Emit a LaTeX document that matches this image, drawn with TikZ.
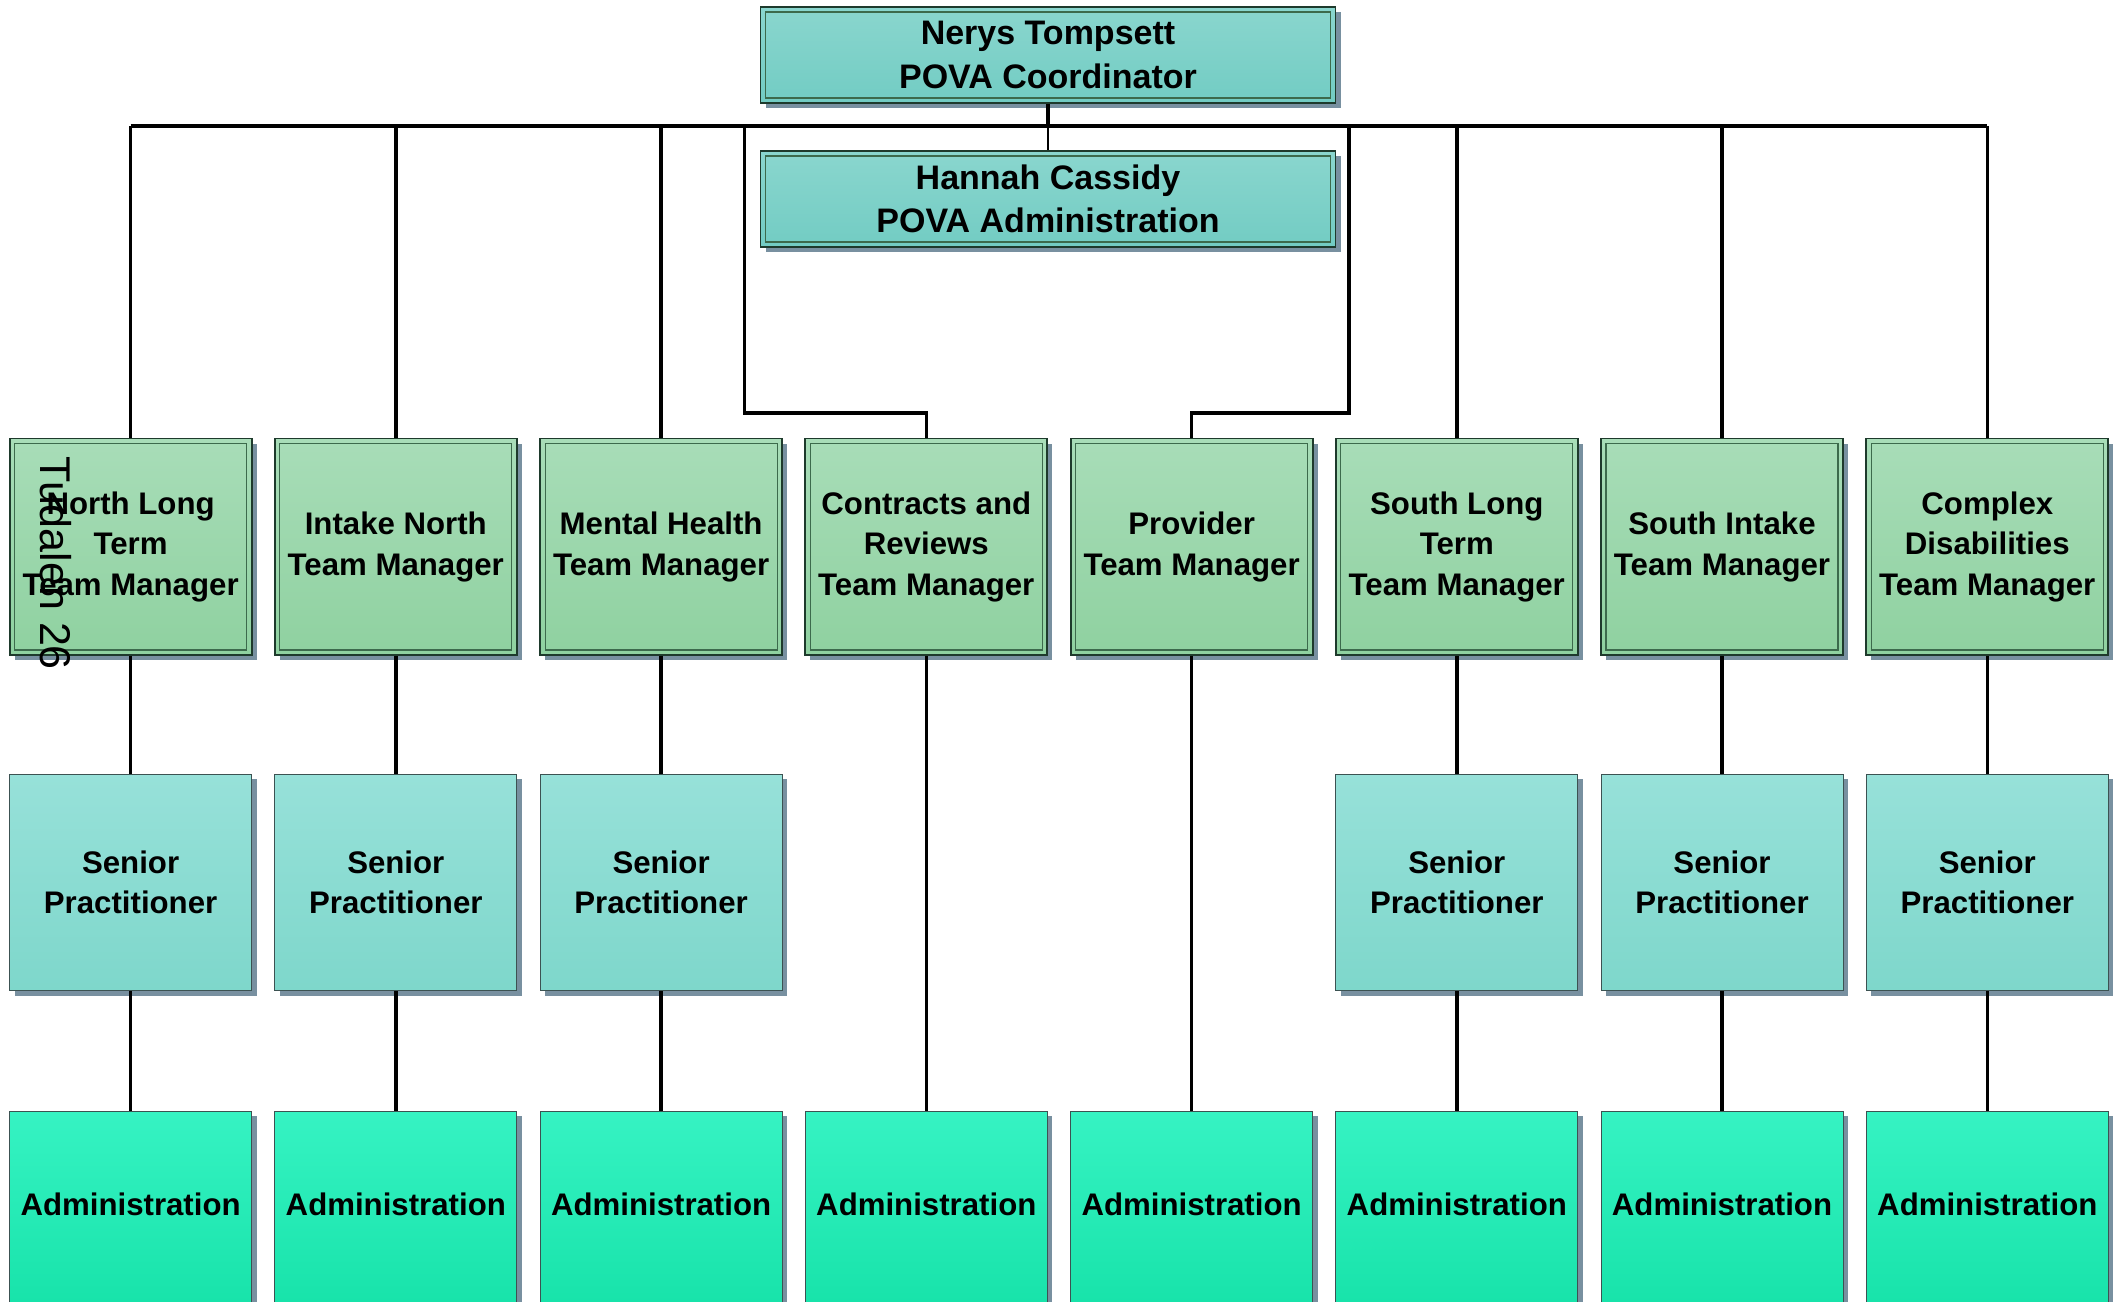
\documentclass[tikz,border=0pt]{standalone}
\usepackage{fontspec}
\setmainfont{Liberation Sans}
\usetikzlibrary{shadows}
\definecolor{topA}{HTML}{8AD6CE}
\definecolor{topB}{HTML}{72CCC3}
\definecolor{grA}{HTML}{A8DDB8}
\definecolor{grB}{HTML}{8FD1A0}
\definecolor{snA}{HTML}{97E1D9}
\definecolor{snB}{HTML}{7ED7CB}
\definecolor{adA}{HTML}{36F3C3}
\definecolor{adB}{HTML}{14E1A7}
\definecolor{shad}{HTML}{7890A0}
\definecolor{edgec}{HTML}{1E3A2C}
\definecolor{inedge}{HTML}{3C6A4C}
\definecolor{thinedge}{HTML}{3C5252}
\tikzset{
  basebox/.style={rectangle, inner sep=0pt, align=center, text=black,
    general shadow={shadow xshift=2.5pt, shadow yshift=-2.5pt, fill=shad}},
  innerline/.style={path picture={\draw[inedge, line width=0.6pt]
    ([shift={(2.5pt,-2.5pt)}]path picture bounding box.north west) rectangle
    ([shift={(-2.5pt,2.5pt)}]path picture bounding box.south east);}},
  headbox/.style={basebox, innerline, draw=edgec, line width=0.9pt,
    minimum width=287.5pt, minimum height=48pt, top color=topA, bottom color=topB,
    font=\bfseries\fontsize{17}{21.6}\selectfont},
  mgrbox/.style={basebox, innerline, draw=edgec, line width=0.9pt,
    minimum width=121pt, minimum height=108.2pt, top color=grA, bottom color=grB,
    font=\bfseries\fontsize{15.6}{20.3}\selectfont},
  snbox/.style={basebox, draw=thinedge, line width=0.5pt,
    minimum width=121pt, minimum height=108.2pt, top color=snA, bottom color=snB,
    font=\bfseries\fontsize{15.6}{20.3}\selectfont},
  adbox/.style={basebox, draw=thinedge, line width=0.5pt,
    minimum width=121pt, minimum height=108.2pt, top color=adA, bottom color=adB,
    text height=11.2pt, text depth=15pt,
    font=\bfseries\fontsize{15.6}{20.3}\selectfont},
  conn/.style={draw=black, line width=1.8pt},
  thinconn/.style={draw=black, line width=1pt},
}
\begin{document}
\begin{tikzpicture}[x=0.5pt,y=-0.5pt]
\useasboundingbox (0,0) rectangle (2122,1302);
\clip (0,0) rectangle (2122,1302);

% top boxes
\node[headbox] (top) at (1048,54.9) {Nerys Tompsett\\POVA Coordinator};
\node[headbox] (han) at (1048,199) {Hannah Cassidy\\POVA Administration};

% managers
\node[mgrbox] (g1) at (130.6,546.7) {North Long\\Term\\Team Manager};
\node[mgrbox] (g2) at (395.8,546.7) {Intake North\\Team Manager};
\node[mgrbox] (g3) at (661.1,546.7) {Mental Health\\Team Manager};
\node[mgrbox] (g4) at (926.3,546.7) {Contracts and\\Reviews\\Team Manager};
\node[mgrbox] (g5) at (1191.6,546.7) {Provider\\Team Manager};
\node[mgrbox] (g6) at (1456.8,546.7) {South Long\\Term\\Team Manager};
\node[mgrbox] (g7) at (1722.0,546.7) {South Intake\\Team Manager};
\node[mgrbox] (g8) at (1987.3,546.7) {Complex\\Disabilities\\Team Manager};

% senior practitioners
\node[snbox] (s1) at (130.6,882.4) {Senior\\Practitioner};
\node[snbox] (s2) at (395.8,882.4) {Senior\\Practitioner};
\node[snbox] (s3) at (661.1,882.4) {Senior\\Practitioner};
\node[snbox] (s6) at (1456.8,882.4) {Senior\\Practitioner};
\node[snbox] (s7) at (1722.0,882.4) {Senior\\Practitioner};
\node[snbox] (s8) at (1987.3,882.4) {Senior\\Practitioner};

% administration
\node[adbox] (a1) at (130.6,1219.4) {Administration};
\node[adbox] (a2) at (395.8,1219.4) {Administration};
\node[adbox] (a3) at (661.1,1219.4) {Administration};
\node[adbox] (a4) at (926.3,1219.4) {Administration};
\node[adbox] (a5) at (1191.6,1219.4) {Administration};
\node[adbox] (a6) at (1456.8,1219.4) {Administration};
\node[adbox] (a7) at (1722.0,1219.4) {Administration};
\node[adbox] (a8) at (1987.3,1219.4) {Administration};

% bus coordinates
\coordinate (busL) at (130.6,125.9);
\coordinate (busR) at (1987.3,125.9);
\coordinate (c4) at (744.3,125.9);
\coordinate (e4) at (744.3,412.8);
\coordinate (c5) at (1349.2,125.9);
\coordinate (e5) at (1349.2,412.8);

% connectors
\path[conn] (top.south) -- (top.south |- busL);
\path[conn] (busL) -- (busR);
\path[thinconn] (top.south |- busL) -- (han.north);
\foreach \i in {1,2,3,6,7,8} {
  \path[conn] (g\i.north |- busL) -- (g\i.north);
  \path[conn] (g\i.south) -- (s\i.north);
  \path[conn] (s\i.south) -- (a\i.north);
}
\path[conn] (c4) -- (e4) -- (g4.north |- e4) -- (g4.north);
\path[conn] (c5) -- (e5) -- (g5.north |- e5) -- (g5.north);
\path[conn] (g4.south) -- (a4.north);
\path[conn] (g5.south) -- (a5.north);

% page watermark
\node[anchor=base west, rotate=-90, inner sep=0pt, font=\fontsize{21.5}{25}\selectfont] (page) at (40,456) {Tudalen 26};
\end{tikzpicture}
\end{document}
